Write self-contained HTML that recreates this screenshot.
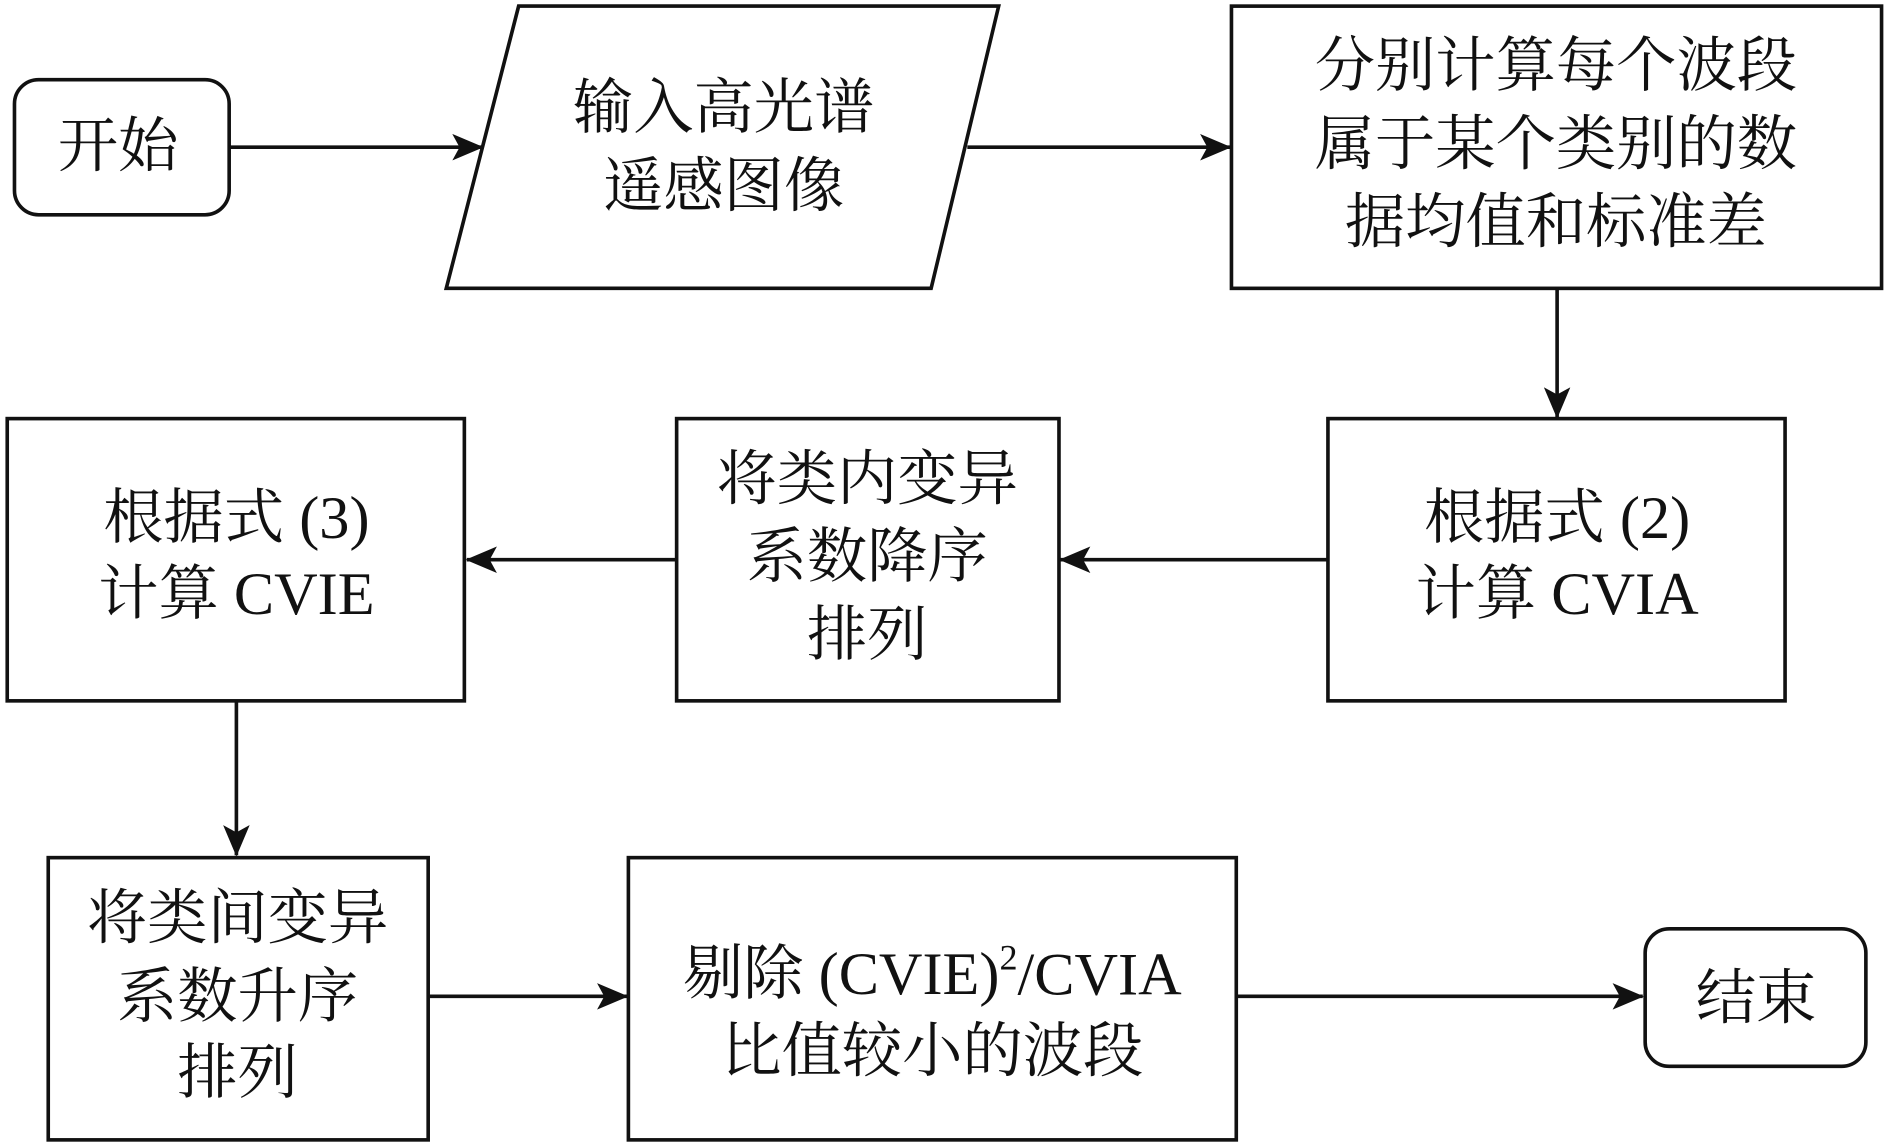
<!DOCTYPE html>
<html><head><meta charset="utf-8"><style>
html,body{margin:0;padding:0;background:#fff;}
svg{display:block;}
text{font-family:"Liberation Serif","Noto Serif CJK SC",serif;font-size:50px;fill:#111;text-anchor:middle;dominant-baseline:central;}
</style></head><body>
<svg width="1890" height="1146" viewBox="0 0 1567 950" xmlns="http://www.w3.org/2000/svg">
<defs>
<marker id="a" markerWidth="12" markerHeight="10" refX="11" refY="5" orient="auto" markerUnits="userSpaceOnUse" viewBox="0 0 12 10">
<path d="M0,0 L12,5 L0,10 L3,5 Z" fill="#111"/>
</marker>
<marker id="b" viewBox="0 0 26 22" markerWidth="26" markerHeight="22" refX="25" refY="11" orient="auto" markerUnits="userSpaceOnUse">
<path d="M0,0 L26,11 L0,22 L6,11 Z" fill="#111"/>
</marker>
</defs>
<g fill="none" stroke="#111" stroke-width="3">
<rect x="12" y="66" width="178" height="112" rx="20"/>
<polygon points="430,5 828,5 772,239 370,239"/>
<rect x="1021" y="5" width="539" height="234"/>
<rect x="1101" y="347" width="379" height="234"/>
<rect x="561" y="347" width="317" height="234"/>
<rect x="6" y="347" width="379" height="234"/>
<rect x="40" y="711" width="315" height="234"/>
<rect x="521" y="711" width="504" height="234"/>
<rect x="1364" y="770" width="183" height="114" rx="20"/>
<line x1="190" y1="122" x2="400" y2="122" marker-end="url(#b)"/>
<line x1="802" y1="122" x2="1020" y2="122" marker-end="url(#b)"/>
<line x1="1291" y1="239" x2="1291" y2="346" marker-end="url(#b)"/>
<line x1="1101" y1="464" x2="879" y2="464" marker-end="url(#b)"/>
<line x1="561" y1="464" x2="387" y2="464" marker-end="url(#b)"/>
<line x1="196" y1="581" x2="196" y2="709" marker-end="url(#b)"/>
<line x1="355" y1="826" x2="520" y2="826" marker-end="url(#b)"/>
<line x1="1025" y1="826" x2="1362" y2="826" marker-end="url(#b)"/>
</g>
<text x="98" y="122">开始</text>
<text x="600" y="90">输入高光谱</text>
<text x="600" y="155">遥感图像</text>
<text x="1290" y="55">分别计算每个波段</text>
<text x="1290" y="120">属于某个类别的数</text>
<text x="1290" y="185">据均值和标准差</text>
<text x="1291" y="430">根据式 (2)</text>
<text x="1291" y="493">计算 CVIA</text>
<text x="719" y="398">将类内变异</text>
<text x="719" y="462">系数降序</text>
<text x="719" y="527">排列</text>
<text x="196" y="430">根据式 (3)</text>
<text x="196" y="493">计算 CVIE</text>
<text x="197" y="762">将类间变异</text>
<text x="197" y="827">系数升序</text>
<text x="197" y="890">排列</text>
<text x="773" y="808">剔除 (CVIE)<tspan font-size="30" dy="-14">2</tspan><tspan dy="14">/CVIA</tspan></text>
<text x="773" y="872">比值较小的波段</text>
<text x="1456" y="828">结束</text>
</svg>
</body></html>
